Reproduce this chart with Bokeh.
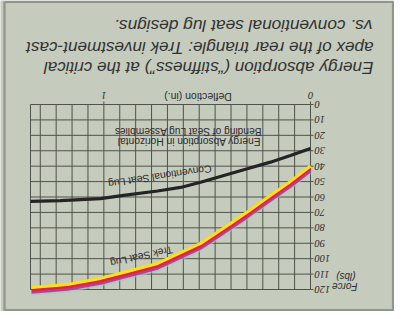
import math
from bokeh.plotting import figure
from bokeh.models import Range1d, Label, BoxAnnotation, ColumnDataSource
from bokeh.embed import file_html
from bokeh.resources import INLINE

# ---- data read from the (upside-down) chart ----
conv_defl = [0.0, 0.097, 0.194, 0.306, 0.419, 0.532, 0.629, 0.740, 0.905, 1.016, 1.209, 1.355]
conv_force = [28.5, 33.1, 37.4, 41.7, 46.0, 50.4, 53.8, 56.1, 59.0, 61.0, 62.3, 62.9]

trek_defl = [0.0, 0.097, 0.194, 0.306, 0.387, 0.532, 0.740, 0.905, 1.016, 1.176, 1.350]
trek_force = [39.9, 49.9, 59.0, 69.8, 77.2, 90.1, 103.1, 109.0, 112.8, 116.7, 118.7]

force_ticks = [0, 10, 20, 30, 40, 50, 60, 70, 80, 90, 100, 110, 120]
force_labels = [str(v) for v in force_ticks]
defl_ticks = [0, 1]
defl_labels = ["0", "1"]
defl_grid = [k / 13 for k in range(18)]
defl_max = 1.355
force_max = 120

title_lines = [
    "Energy absorption (\u201cstiffness\u201d) at the critical",
    "apex of the rear triangle: Trek investment-cast",
    "vs. conventional seat lug designs.",
]
chart_note = ["Energy Absorption in Horizontal", "Bending of Seat Lug Assemblies"]
conv_name = "Conventional Seat Lug"
trek_name = "Trek Seat Lug"
x_title = "Deflection (in.)"
y_title = ["Force", "(lbs)"]

# ---- layout (page pixels of the scanned, upside-down panel) ----
W, H = 394, 311
X0, Y0 = 310, 104          # pixel of deflection 0 / force 0 (grid corner)
PX_IN = 280 / defl_max     # pixels per inch (grid runs to the left)
PX_LB = 185 / force_max    # pixels per lb (grid runs downward)

def at(px, py):
    return (X0 - px) / PX_IN, (py - Y0) / PX_LB

BG = "#c5cbbd"
GRID = "#4f534b"
INK = "#2c2c2c"
TITLE_INK = "#333333"
FONT = "Liberation Sans"
FLIP = math.pi

p = figure(width=W, height=H, title=None,
           x_range=Range1d(at(0, 0)[0], at(W, 0)[0]),
           y_range=Range1d(at(0, H)[1], at(0, 0)[1]),
           x_axis_location=None, y_axis_location=None,
           min_border=0, background_fill_color=BG, border_fill_color=BG,
           output_backend="svg", toolbar_location=None)
p.outline_line_color = None
p.xgrid.visible = False
p.ygrid.visible = False

# ---- grid (chart paper) ----
hx0 = [0.0] * len(force_ticks)
hx1 = [defl_max] * len(force_ticks)
p.segment(x0=hx0, y0=force_ticks, x1=hx1, y1=force_ticks,
          line_color=GRID, line_width=1)
vx = defl_grid + [defl_max]
p.segment(x0=vx, y0=[0] * len(vx), x1=vx, y1=[force_max] * len(vx),
          line_color=GRID, line_width=1)

# tick marks
tick_len_in = 3 / PX_IN
tick_len_lb = 3 / PX_LB
p.segment(x0=hx0, y0=force_ticks, x1=[-tick_len_in] * len(force_ticks), y1=force_ticks,
          line_color=GRID, line_width=1)
p.segment(x0=defl_ticks, y0=[0, 0], x1=defl_ticks, y1=[-tick_len_lb] * 2,
          line_color=GRID, line_width=1)

# tick labels (upside-down like the scanned page)
ysrc = ColumnDataSource(dict(x=hx0, y=force_ticks, t=force_labels))
p.text(x="x", y="y", text="t", source=ysrc, angle=FLIP, x_offset=4,
       text_align="right", text_baseline="middle", text_font=FONT,
       text_font_style="italic", text_font_size="10.5px", text_color=INK)
xsrc = ColumnDataSource(dict(x=defl_ticks, y=[0, 0], t=defl_labels))
p.text(x="x", y="y", text="t", source=xsrc, angle=FLIP, y_offset=-9,
       text_align="center", text_baseline="middle", text_font=FONT,
       text_font_style="italic", text_font_size="10.5px", text_color=INK)

# ---- curves ----
p.line(conv_defl, conv_force, line_color="#242424", line_width=3.2)

band = [("#9cc4d2", 4.6, 2.0, 0.6), ("#c63a8e", 3.1, 3.0, 1.0),
        ("#e0262b", 1.55, 3.0, 1.0), ("#f4e21c", 0.0, 3.0, 1.0)]
for color, off, w, a in band:
    p.line(trek_defl, [f + off for f in trek_force], line_color=color,
           line_width=w, line_alpha=a)

def flipped(text, pos, size, style="normal", align="left", tilt=0.0, color=INK):
    x, y = pos
    p.add_layout(Label(x=x, y=y, text=text, angle=FLIP + tilt,
                       text_align=align, text_baseline="middle",
                       text_font=FONT, text_font_size=size,
                       text_font_style=style, text_color=color))

# title block
flipped(title_lines[0], at(373, 67), "17.1px", "italic", color=TITLE_INK)
flipped(title_lines[1], at(373, 47), "17.1px", "italic", color=TITLE_INK)
flipped(title_lines[2], at(372, 25), "17.3px", "italic", color=TITLE_INK)

# axis titles
flipped(x_title, at(197.5, 96), "10.5px", align="center")
flipped(y_title[0], at(357, 286), "10px", "italic")
flipped(y_title[1], at(355, 276), "10px", "italic")

# in-chart notes
flipped(chart_note[0], at(260, 141), "10.2px")
flipped(chart_note[1], at(261, 131), "10.2px")
flipped(conv_name, at(211, 168), "10.3px", tilt=0.15)
flipped(trek_name, at(172, 249), "10.2px", tilt=0.22)

# page frame of the scanned panel
bl, bt = at(4, 1.5)
br, bb = at(392.5, 309.5)
p.add_layout(BoxAnnotation(left=bl, right=br, top=bt, bottom=bb,
                           fill_alpha=0, line_color="#1c1c1c", line_width=2.2))

open("out.html", "w").write(file_html(p, INLINE))
